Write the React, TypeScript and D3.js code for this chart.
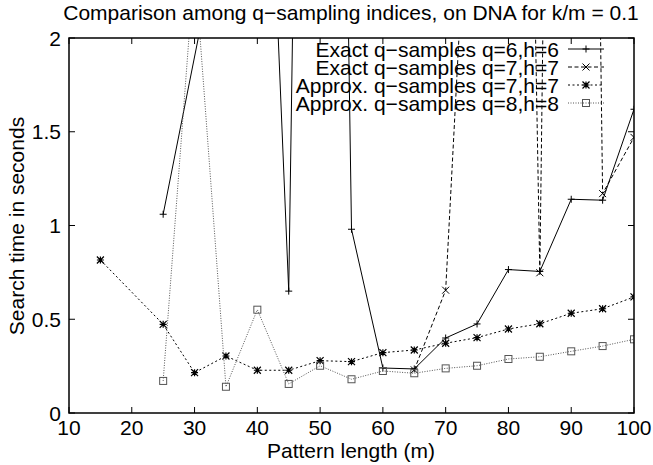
import React from "react";
import * as d3 from "d3";

const patternLengths = [15, 20, 25, 30, 35, 40, 45, 50, 55, 60, 65, 70, 75, 80, 85, 90, 95, 100];
const exactQ6 = [null, null, 1.06, null, 2.74, 4.7, 0.65, 12, 0.98, 0.24, 0.235, 0.4, 0.475, 0.765, 0.755, 1.14, 1.135, 1.62];
const exactQ7 = [null, null, null, null, null, null, null, null, null, null, 0.23, 0.655, 3.84, 10, 0.748, 14, 1.17, 1.47];
const approxQ7 = [0.816, null, 0.473, 0.215, 0.304, 0.228, 0.228, 0.279, 0.274, 0.322, 0.336, 0.372, 0.402, 0.448, 0.476, 0.532, 0.556, 0.619];
const approxQ8 = [null, null, 0.171, 2.4, 0.14, 0.551, 0.155, 0.252, 0.18, 0.224, 0.212, 0.238, 0.252, 0.288, 0.3, 0.329, 0.357, 0.393];

const seriesNames = [
  "Exact q\u2212samples q=6,h=6",
  "Exact q\u2212samples q=7,h=7",
  "Approx. q\u2212samples q=7,h=7",
  "Approx. q\u2212samples q=8,h=8",
];
const xTicks = [10, 20, 30, 40, 50, 60, 70, 80, 90, 100];
const yTicks = [0, 0.5, 1, 1.5, 2];
const yTickLabels = ["0", "0.5", "1", "1.5", "2"];

const title = "Comparison among q\u2212sampling indices, on DNA for k/m = 0.1";
const xTitle = "Pattern length (m)";
const yTitle = "Search time in seconds";

const W = 653, H = 465;
const L = 69, R = 634, T = 38, B = 413;
const FONT = "'Liberation Sans', Arial, Helvetica, sans-serif";
const FS = 21;

const styles = [
  { dash: undefined, color: "#000", marker: "plus" },
  { dash: "4,2.5", color: "#000", marker: "cross" },
  { dash: "2,2.5", color: "#000", marker: "star" },
  { dash: "1,1.5", color: "#555", marker: "square" },
];

function Marker({ kind, x, y, color }: { kind: string; x: number; y: number; color: string }) {
  const s = 3.5;
  if (kind === "plus")
    return <path d={`M${x - s},${y}H${x + s}M${x},${y - s}V${y + s}`} stroke={color} strokeWidth={1} fill="none" />;
  if (kind === "cross")
    return <path d={`M${x - s},${y - s}L${x + s},${y + s}M${x - s},${y + s}L${x + s},${y - s}`} stroke={color} strokeWidth={1} fill="none" />;
  if (kind === "star")
    return (
      <path
        d={`M${x - s},${y}H${x + s}M${x},${y - s}V${y + s}M${x - s},${y - s}L${x + s},${y + s}M${x - s},${y + s}L${x + s},${y - s}`}
        stroke={color}
        strokeWidth={1.2}
        fill="none"
      />
    );
  return <rect x={x - s} y={y - s} width={2 * s} height={2 * s} stroke={color} strokeWidth={1} fill="none" />;
}

export default function App() {
  const x = d3.scaleLinear().domain([10, 100]).range([L, R]);
  const y = d3.scaleLinear().domain([0, 2]).range([B, T]);
  const allSeries = [exactQ6, exactQ7, approxQ7, approxQ8];
  const line = d3
    .line<[number, number]>()
    .x((d) => x(d[0]))
    .y((d) => y(d[1]));

  const legendY = [49, 67, 85, 103];

  return (
    <svg width={W} height={H} style={{ position: "absolute", left: 0, top: 0, background: "#fff" }} fontFamily={FONT}>
      <defs>
        <clipPath id="plotclip">
          <rect x={L} y={T} width={R - L} height={B - T} />
        </clipPath>
      </defs>
      <rect x={0} y={0} width={W} height={H} fill="#fff" />
      <text x={351} y={20} fontSize={FS} textAnchor="middle">
        {title}
      </text>

      {xTicks.map((t) => (
        <g key={"xt" + t}>
          <line x1={x(t)} x2={x(t)} y1={B} y2={B - 6} stroke="#000" />
          <line x1={x(t)} x2={x(t)} y1={T} y2={T + 6} stroke="#000" />
          <text x={x(t)} y={435} fontSize={FS} textAnchor="middle">
            {t}
          </text>
        </g>
      ))}
      {yTicks.map((t, i) => (
        <g key={"yt" + t}>
          <line x1={L} x2={L + 6} y1={y(t)} y2={y(t)} stroke="#000" />
          <line x1={R} x2={R - 6} y1={y(t)} y2={y(t)} stroke="#000" />
          <text x={61} y={y(t) + 7.5} fontSize={FS} textAnchor="end">
            {yTickLabels[i]}
          </text>
        </g>
      ))}

      <text x={351} y={458} fontSize={FS} textAnchor="middle">
        {xTitle}
      </text>
      <text transform={`translate(24,226) rotate(-90)`} fontSize={FS} textAnchor="middle">
        {yTitle}
      </text>

      <g clipPath="url(#plotclip)">
        {allSeries.map((vals, si) => {
          const pts: [number, number][] = [];
          vals.forEach((v, i) => {
            if (v !== null) pts.push([patternLengths[i], v as number]);
          });
          const st = styles[si];
          return (
            <g key={"s" + si}>
              <path d={line(pts) || ""} fill="none" stroke={st.color} strokeWidth={1} strokeDasharray={st.dash} />
              {pts.map((p, j) => (
                <Marker key={j} kind={st.marker} x={x(p[0])} y={y(p[1])} color={st.color} />
              ))}
            </g>
          );
        })}
      </g>

      {seriesNames.map((name, i) => {
        const st = styles[i];
        return (
          <g key={"lg" + i}>
            <text x={559} y={legendY[i] + 7.5} fontSize={FS} textAnchor="end">
              {name}
            </text>
            <line x1={568} x2={604} y1={legendY[i]} y2={legendY[i]} stroke={st.color} strokeWidth={1} strokeDasharray={st.dash} />
            <Marker kind={st.marker} x={586} y={legendY[i]} color={st.color} />
          </g>
        );
      })}

      <rect x={L} y={T} width={R - L} height={B - T} fill="none" stroke="#000" strokeWidth={1.5} />
    </svg>
  );
}
